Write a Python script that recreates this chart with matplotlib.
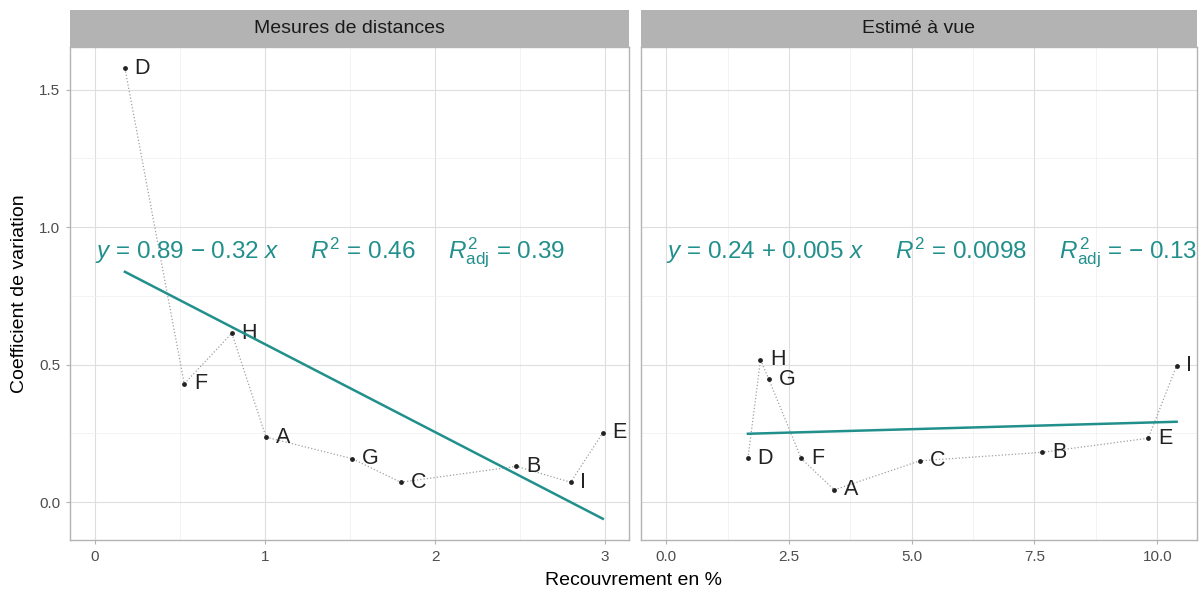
import numpy as np
import matplotlib.pyplot as plt
from matplotlib.ticker import MultipleLocator

plt.rcParams["font.family"] = ["Liberation Sans", "DejaVu Sans"]
plt.rcParams["mathtext.fontset"] = "custom"
plt.rcParams["mathtext.rm"] = "Liberation Sans"
plt.rcParams["mathtext.it"] = "Liberation Sans:italic"
plt.rcParams["mathtext.bf"] = "Liberation Sans:bold"

labels = ["A", "B", "C", "D", "E", "F", "G", "H", "I"]

# Mesures de distances
x_dist = [1.006, 2.479, 1.798, 0.176, 2.987, 0.525, 1.512, 0.805, 2.798]
y_dist = [0.236, 0.130, 0.072, 1.578, 0.252, 0.430, 0.158, 0.614, 0.072]

# Estimé à vue
x_vue = [3.421, 7.656, 5.165, 1.663, 9.817, 2.747, 2.088, 1.919, 10.395]
y_vue = [0.044, 0.181, 0.150, 0.159, 0.232, 0.159, 0.447, 0.517, 0.496]

titles = ["Mesures de distances", "Estimé à vue"]
equations = [
    r"$y$ = 0.89 $-$ 0.32 $x$     $R^2$ = 0.46     $R^2_{\mathrm{adj}}$ = 0.39",
    r"$y$ = 0.24 + 0.005 $x$     $R^2$ = 0.0098     $R^2_{\mathrm{adj}}$ = $-$ 0.13",
]

teal = "#21908C"
W, H = 1203, 595
fig = plt.figure(figsize=(W / 100, H / 100), dpi=100)

panels = [
    dict(x=x_dist, y=y_dist, left=70, right=629, xlim=(-0.147, 3.141),
         major=1, minor=0.5, fmt="{:.0f}"),
    dict(x=x_vue, y=y_vue, left=641, right=1197, xlim=(-0.515, 10.81),
         major=2.5, minor=1.25, fmt="{:.1f}"),
]
top, bottom, strip_top = 47, 540, 10

for i, p in enumerate(panels):
    ax = fig.add_axes([p["left"] / W, (H - bottom) / H,
                       (p["right"] - p["left"]) / W, (bottom - top) / H])
    ax.set_xlim(*p["xlim"])
    ax.set_ylim(-0.138, 1.655)
    ax.xaxis.set_major_locator(MultipleLocator(p["major"]))
    ax.xaxis.set_minor_locator(MultipleLocator(p["minor"]))
    ax.yaxis.set_major_locator(MultipleLocator(0.5))
    ax.yaxis.set_minor_locator(MultipleLocator(0.25))
    ax.grid(which="major", color="#DEDEDE", lw=0.8)
    ax.grid(which="minor", color="#EFEFEF", lw=0.5)
    ax.set_axisbelow(True)
    for s in ax.spines.values():
        s.set_color("#B3B3B3")
        s.set_linewidth(1.0)
    ax.tick_params(which="major", length=3, color="#B3B3B3", labelsize=11,
                   labelcolor="#4D4D4D", pad=4)
    ax.tick_params(which="minor", length=0)
    ticks = ax.get_xticks()
    ax.set_xticks(ticks)
    ax.set_xticklabels([p["fmt"].format(t) for t in ticks])
    ax.set_xlim(*p["xlim"])
    if i == 0:
        ax.set_ylabel("Coefficient de variation", fontsize=14, labelpad=8)
        ax.set_yticks([0, 0.5, 1.0, 1.5])
        ax.set_yticklabels(["0.0", "0.5", "1.0", "1.5"])
    else:
        ax.tick_params(axis="y", left=False, labelleft=False)
    ax.set_ylim(-0.138, 1.655)

    xs = np.array(p["x"])
    ys = np.array(p["y"])
    order = np.argsort(xs)
    ax.plot(xs[order], ys[order], ls=":", color="#A0A0A0", lw=0.9, zorder=2)
    ax.scatter(xs, ys, s=6, color="#222222", zorder=3)
    for lab, xv, yv in zip(labels, xs, ys):
        ax.annotate(lab, (xv, yv), xytext=(7, 0), textcoords="offset points",
                    ha="left", va="center", fontsize=15.5, color="#222222")

    coef = np.polyfit(xs, ys, 1)
    xl = np.array([xs.min(), xs.max()])
    ax.plot(xl, np.polyval(coef, xl), color=teal, lw=1.8, zorder=4)
    ax.text(0.0, 0.905, equations[i], color=teal, fontsize=17.5,
            ha="left", va="center")

    sax = fig.add_axes([p["left"] / W, (H - top) / H,
                        (p["right"] - p["left"]) / W, (top - strip_top) / H])
    sax.set_facecolor("#B3B3B3")
    sax.set_xticks([])
    sax.set_yticks([])
    for s in sax.spines.values():
        s.set_visible(False)
    sax.text(0.5, 0.5, titles[i], ha="center", va="center", fontsize=14,
             color="#1A1A1A", transform=sax.transAxes)

fig.text((70 + 1197) / 2 / W, 6 / H, "Recouvrement en %", ha="center",
         va="bottom", fontsize=14)

fig.savefig("out.png", dpi=100)
